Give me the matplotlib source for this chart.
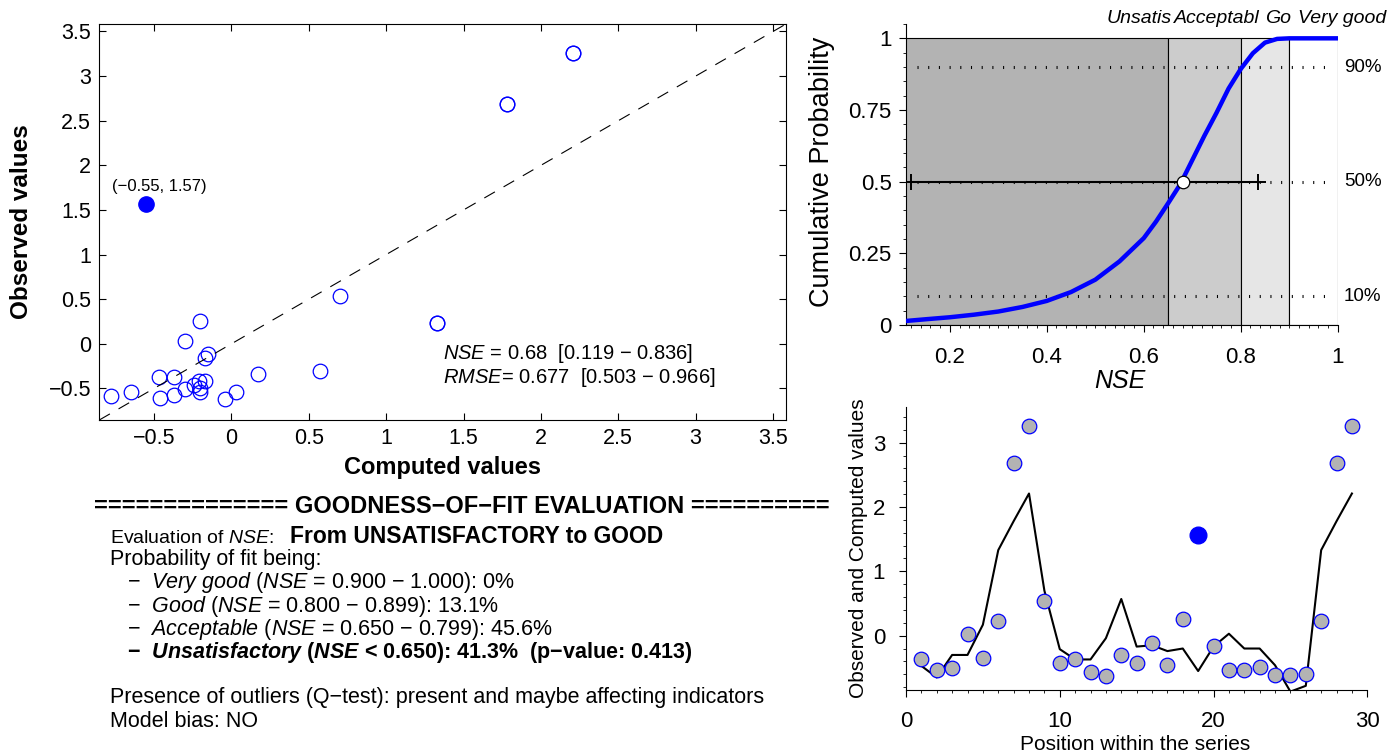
import matplotlib

matplotlib.use("Agg")
import matplotlib.pyplot as plt
import numpy as np
from matplotlib.ticker import FuncFormatter, MultipleLocator

plt.rcParams["font.family"] = ["Liberation Sans", "DejaVu Sans"]
plt.rcParams["mathtext.fontset"] = "custom"
plt.rcParams["mathtext.rm"] = "Liberation Sans"
plt.rcParams["mathtext.it"] = "Liberation Sans:italic"
plt.rcParams["mathtext.bf"] = "Liberation Sans:bold"
plt.rcParams["mathtext.bfit"] = "Liberation Sans:italic:bold"

# --- data ---
position = list(range(1, 30))
observed = [-0.37, -0.54, -0.51, 0.03, -0.34, 0.23, 2.69, 3.26, 0.54, -0.42,
            -0.37, -0.57, -0.62, -0.30, -0.42, -0.11, -0.46, 0.26, 1.57, -0.16,
            -0.54, -0.54, -0.49, -0.61, -0.61, -0.59, 0.23, 2.69, 3.26]
computed = [-0.47, -0.65, -0.30, -0.30, 0.17, 1.33, 1.78, 2.21, 0.70, -0.21,
            -0.37, -0.37, -0.04, 0.57, -0.17, -0.15, -0.24, -0.20, -0.55, -0.17,
            0.03, -0.20, -0.20, -0.46, -0.87, -0.78, 1.33, 1.78, 2.21]
outlier_pos = 19

nse_value = 0.68
nse_ci = [0.119, 0.836]
rmse_value = 0.677
rmse_ci = [0.503, 0.966]

# cumulative distribution of NSE
nse_grid = [0.109, 0.15, 0.20, 0.25, 0.30, 0.35, 0.40, 0.45, 0.50, 0.55,
            0.60, 0.625, 0.65, 0.675, 0.70, 0.725, 0.75, 0.775, 0.80, 0.825,
            0.85, 0.875, 0.90, 1.0]
cum_prob = [0.014, 0.020, 0.027, 0.036, 0.047, 0.063, 0.084, 0.115, 0.158, 0.222,
            0.303, 0.360, 0.424, 0.490, 0.575, 0.660, 0.740, 0.825, 0.893, 0.948,
            0.985, 0.998, 1.0, 1.0]

class_lower = [0.0, 0.65, 0.80, 0.90]
class_upper = [0.65, 0.80, 0.90, 1.00]
class_colors = ["#b3b3b3", "#cccccc", "#e6e6e6", "#ffffff"]
# class names as they show above the panel (cut off by each other)
class_labels = ["Unsatis", "Acceptabl", "Go", "Very good"]
class_label_x = [0.524, 0.663, 0.851, 0.919]
pct_levels = [0.1, 0.5, 0.9]

W, H = 1398, 752


def fx(px):
    return px / W


def fy(py):
    return 1 - py / H


def gfmt(v, pos):
    return f"{v:g}".replace("-", "\u2212")


fig = plt.figure(figsize=(W / 100, H / 100), dpi=100)

pos = np.array(position)
obs = np.array(observed)
com = np.array(computed)
is_out = pos == outlier_pos

# --- scatter: computed vs observed ---
ax = fig.add_axes([fx(99.3), fy(420), 686.7 / W, 396 / H])
lim = (-0.854, 3.584)
inside = (com >= lim[0]) & (com <= lim[1]) & (obs >= lim[0]) & (obs <= lim[1])
ax.plot(com[~is_out & inside], obs[~is_out & inside], "o", mfc="none",
        mec="blue", ms=10.5, mew=0.9)
ax.plot(com[is_out], obs[is_out], "o", color="blue", ms=11)
ax.axline((0, 0), slope=1, color="k", lw=0.8, dashes=(11, 9))
ox, oy = com[is_out][0], obs[is_out][0]
ax.annotate(f"({ox:.2f}, {oy:.2f})".replace("-", "\u2212"), (ox, oy),
            xytext=(9.5, 9), textcoords="offset points", ha="center",
            va="baseline", fontsize=12)
ax.text(0.501, (420 - 359.5) / 396,
        f"$\\mathit{{NSE}}$ = {nse_value:.2f}  [{nse_ci[0]:.3f} \u2212 {nse_ci[1]:.3f}]",
        transform=ax.transAxes, fontsize=14.5, va="baseline")
ax.text(0.501, (420 - 383) / 396,
        f"$\\mathit{{RMSE}}$= {rmse_value:.3f}  [{rmse_ci[0]:.3f} \u2212 {rmse_ci[1]:.3f}]",
        transform=ax.transAxes, fontsize=14.5, va="baseline")
ax.set_xlim(lim)
ax.set_ylim(lim)
ax.xaxis.set_major_locator(MultipleLocator(0.5))
ax.yaxis.set_major_locator(MultipleLocator(0.5))
ax.xaxis.set_major_formatter(FuncFormatter(gfmt))
ax.yaxis.set_major_formatter(FuncFormatter(gfmt))
ax.tick_params(direction="in", top=True, right=True, length=5, width=0.8,
               labelsize=15.5, pad=6)
for s in ax.spines.values():
    s.set_linewidth(0.8)
ax.set_xlabel("Computed values", fontsize=17, fontweight="bold", va="center")
ax.xaxis.set_label_coords(0.5, -0.119)
ax.set_ylabel("Observed values", fontsize=17.5, fontweight="bold", va="center")
ax.yaxis.set_label_coords(-0.1126, 0.5)

# --- cumulative probability of NSE ---
ax2 = fig.add_axes([fx(905.7), fy(325), 432 / W, 301 / H])
for lo, hi, c in zip(class_lower, class_upper, class_colors):
    ax2.bar(lo, 1.0, width=hi - lo, align="edge", color=c, edgecolor="k",
            linewidth=0.8, zorder=1)
for lev in pct_levels:
    ax2.axhline(lev, xmin=0.026, xmax=0.98, color="k", lw=2.2,
                dashes=(0.35, 3.15), zorder=2)
    ax2.text(1.0125, lev, f"{lev:.0%}", ha="left", va="center", fontsize=13.5,
             clip_on=False)
ax2.plot(nse_ci, [0.5, 0.5], "k-", lw=1.5, marker="+", ms=12, mew=1.4, zorder=3)
ax2.plot(nse_grid, cum_prob, color="blue", lw=3.2, zorder=4)
ax2.plot(nse_value, 0.5, "o", mfc="white", mec="k", ms=9, mew=0.9, zorder=5)
for name, x in zip(class_labels, class_label_x):
    ax2.text(x, 1.053, name, style="italic", fontsize=14, ha="left",
             va="baseline", clip_on=False)
ax2.set_xlim(0.109, 1.0)
ax2.set_ylim(0, 1.05)
ax2.xaxis.set_major_locator(MultipleLocator(0.2))
ax2.xaxis.set_minor_locator(MultipleLocator(0.02))
ax2.yaxis.set_major_locator(MultipleLocator(0.25))
ax2.yaxis.set_minor_locator(MultipleLocator(0.05))
ax2.xaxis.set_major_formatter(FuncFormatter(gfmt))
ax2.yaxis.set_major_formatter(FuncFormatter(gfmt))
ax2.spines["top"].set_visible(False)
ax2.spines["right"].set_visible(False)
ax2.tick_params(direction="out", length=5, width=0.8, labelsize=16)
ax2.tick_params(which="minor", direction="out", length=2.5, width=0.6)
ax2.tick_params(axis="x", pad=11)
ax2.tick_params(axis="y", pad=5)
ax2.set_xlabel("NSE", fontsize=18, style="italic", va="center")
ax2.xaxis.set_label_coords(0.496, -0.186)
ax2.set_ylabel("Cumulative Probability", fontsize=19.5, va="center")
ax2.yaxis.set_label_coords(-0.194, 0.508)

# --- series plot ---
ax3 = fig.add_axes([fx(906), fy(690), 461.3 / W, 283.3 / H])
ax3.plot(pos, com, "k-", lw=1.5)
ax3.plot(pos[~is_out], obs[~is_out], "o", mfc="#b3b3b3", mec="blue", ms=10.5,
         mew=0.9)
ax3.plot(pos[is_out], obs[is_out], "o", color="blue", ms=12)
ax3.set_xlim(0, 30)
ax3.set_ylim(-0.845, 3.56)
ax3.xaxis.set_major_locator(MultipleLocator(10))
ax3.xaxis.set_minor_locator(MultipleLocator(1))
ax3.yaxis.set_major_locator(MultipleLocator(1))
ax3.yaxis.set_minor_locator(MultipleLocator(0.2))
ax3.xaxis.set_major_formatter(FuncFormatter(gfmt))
ax3.yaxis.set_major_formatter(FuncFormatter(gfmt))
ax3.spines["top"].set_visible(False)
ax3.spines["right"].set_visible(False)
ax3.tick_params(direction="out", length=5, width=0.8, labelsize=16, pad=10)
ax3.tick_params(which="minor", direction="out", length=2.5, width=0.6)
ax3.set_xlabel("Position within the series", fontsize=15, va="center")
ax3.xaxis.set_label_coords(0.496, -0.191)
ax3.set_ylabel("Observed and Computed values", fontsize=15, va="center")
ax3.yaxis.set_label_coords(-0.104, 0.5)

# --- goodness-of-fit text block ---
body = dict(fontsize=15.5, va="baseline", ha="left")
fig.text(fx(94), fy(513), "=" * 14 + " GOODNESS\u2212OF\u2212FIT EVALUATION " + "=" * 10,
         fontweight="bold", fontsize=17, va="baseline", ha="left")
fig.text(fx(110), fy(542.7), "Evaluation of $\\mathit{NSE}$:", fontsize=14,
         va="baseline", ha="left")
fig.text(fx(290), fy(542.7), "From UNSATISFACTORY to GOOD", fontweight="bold",
         fontsize=16.5, va="baseline", ha="left")
fig.text(fx(110), fy(565), "Probability of fit being:", **body)
fig.text(fx(126.7), fy(588),
         "\u2212  $\\mathit{Very\\ good}$ ($\\mathit{NSE}$ = 0.900 \u2212 1.000): 0%", **body)
fig.text(fx(126.7), fy(611.7),
         "\u2212  $\\mathit{Good}$ ($\\mathit{NSE}$ = 0.800 \u2212 0.899): 13.1%", **body)
fig.text(fx(126.7), fy(635),
         "\u2212  $\\mathit{Acceptable}$ ($\\mathit{NSE}$ = 0.650 \u2212 0.799): 45.6%", **body)
fig.text(fx(126.7), fy(658.3),
         "\u2212  $\\mathbfit{Unsatisfactory}$ ($\\mathbfit{NSE}$ < 0.650): 41.3%  (p\u2212value: 0.413)",
         fontweight="bold", **body)
fig.text(fx(110), fy(703),
         "Presence of outliers (Q\u2212test): present and maybe affecting indicators", **body)
fig.text(fx(110), fy(726.7), "Model bias: NO", **body)

fig.savefig("out.png", dpi=100)
